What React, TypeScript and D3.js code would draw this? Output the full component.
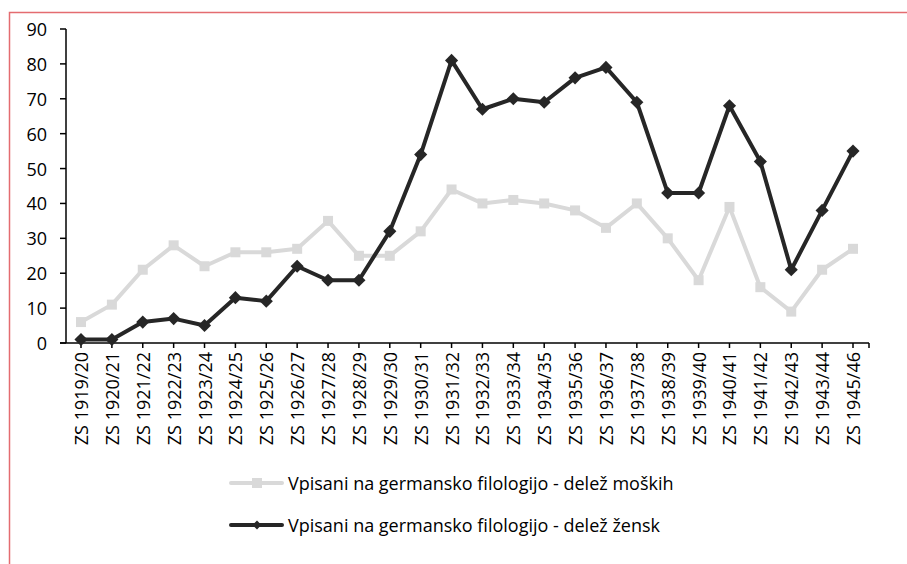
import React, { useRef, useEffect } from "react";
import * as d3 from "d3";

// semesters (1944/45 is missing in the source)
const semesters = [
  "ZS 1919/20", "ZS 1920/21", "ZS 1921/22", "ZS 1922/23", "ZS 1923/24",
  "ZS 1924/25", "ZS 1925/26", "ZS 1926/27", "ZS 1927/28", "ZS 1928/29",
  "ZS 1929/30", "ZS 1930/31", "ZS 1931/32", "ZS 1932/33", "ZS 1933/34",
  "ZS 1934/35", "ZS 1935/36", "ZS 1936/37", "ZS 1937/38", "ZS 1938/39",
  "ZS 1939/40", "ZS 1940/41", "ZS 1941/42", "ZS 1942/43", "ZS 1943/44",
  "ZS 1945/46",
];
const moski = [6, 11, 21, 28, 22, 26, 26, 27, 35, 25, 25, 32, 44, 40, 41, 40, 38, 33, 40, 30, 18, 39, 16, 9, 21, 27];
const zenske = [1, 1, 6, 7, 5, 13, 12, 22, 18, 18, 32, 54, 81, 67, 70, 69, 76, 79, 69, 43, 43, 68, 52, 21, 38, 55];
const yTicks = [0, 10, 20, 30, 40, 50, 60, 70, 80, 90];
const labelMoski = "Vpisani na germansko filologijo - delež moških";
const labelZenske = "Vpisani na germansko filologijo - delež žensk";

const W = 907;
const H = 564;
const font = "'Open Sans', 'Noto Sans', sans-serif";

export default function App() {
  const ref = useRef<SVGSVGElement>(null);

  useEffect(() => {
    const svg = d3.select(ref.current);
    svg.selectAll("*").remove();

    const axisLeft = 66;
    const axisRight = 869;
    const x = d3.scalePoint<string>().domain(semesters).range([81, 853]);
    const y = d3.scaleLinear().domain([0, 90]).range([343, 29]);

    // red frame
    svg.append("path")
      .attr("d", `M9.5,${H}V12.5H${W}`)
      .attr("fill", "none")
      .attr("stroke", "#e46c70")
      .attr("stroke-width", 1.5);

    // y axis
    const gy = svg.append("g");
    gy.append("line")
      .attr("x1", axisLeft).attr("x2", axisLeft)
      .attr("y1", y(90)).attr("y2", y(0))
      .attr("stroke", "#000").attr("stroke-width", 1.5);
    gy.selectAll("line.t").data(yTicks).join("line")
      .attr("class", "t")
      .attr("x1", 60).attr("x2", axisLeft)
      .attr("y1", d => y(d)).attr("y2", d => y(d))
      .attr("stroke", "#000").attr("stroke-width", 1.5);
    gy.selectAll("text").data(yTicks).join("text")
      .attr("x", 47).attr("y", d => y(d))
      .attr("text-anchor", "end")
      .attr("dominant-baseline", "central")
      .attr("font-family", font).attr("font-size", 18)
      .attr("fill", "#000")
      .text(d => d);

    // x axis
    const gx = svg.append("g");
    gx.append("line")
      .attr("x1", 60).attr("x2", axisRight)
      .attr("y1", y(0)).attr("y2", y(0))
      .attr("stroke", "#000").attr("stroke-width", 1.5);
    gx.selectAll("line.t").data([...semesters.map(s => x(s)!), axisRight]).join("line")
      .attr("class", "t")
      .attr("x1", d => d).attr("x2", d => d)
      .attr("y1", y(0)).attr("y2", y(0) + 5)
      .attr("stroke", "#000").attr("stroke-width", 1.5);
    gx.selectAll("text").data(semesters).join("text")
      .attr("transform", d => `translate(${x(d)},352) rotate(-90)`)
      .attr("text-anchor", "end")
      .attr("dominant-baseline", "central")
      .attr("font-family", font).attr("font-size", 18)
      .attr("fill", "#000")
      .text(d => d);

    const line = d3.line<number>()
      .x((_, i) => x(semesters[i])!)
      .y(d => y(d));

    // men
    svg.append("path")
      .datum(moski)
      .attr("d", line)
      .attr("fill", "none")
      .attr("stroke", "#d9d9d9")
      .attr("stroke-width", 4)
      .attr("stroke-linejoin", "round");
    svg.append("g").selectAll("rect").data(moski).join("rect")
      .attr("x", (_, i) => x(semesters[i])! - 5)
      .attr("y", d => y(d) - 5)
      .attr("width", 10).attr("height", 10)
      .attr("fill", "#d9d9d9");

    // women
    svg.append("path")
      .datum(zenske)
      .attr("d", line)
      .attr("fill", "none")
      .attr("stroke", "#262626")
      .attr("stroke-width", 4)
      .attr("stroke-linejoin", "round");
    const diamond = d3.symbol(d3.symbolDiamond2, 110);
    svg.append("g").selectAll("path").data(zenske).join("path")
      .attr("transform", (d, i) => `translate(${x(semesters[i])},${y(d)})`)
      .attr("d", diamond)
      .attr("fill", "#262626");

    // legend
    const legend = [
      { label: labelMoski, color: "#d9d9d9", cy: 483, marker: "square" },
      { label: labelZenske, color: "#262626", cy: 525, marker: "diamond" },
    ];
    const lg = svg.append("g").selectAll("g").data(legend).join("g");
    lg.append("line")
      .attr("x1", 231).attr("x2", 282)
      .attr("y1", d => d.cy).attr("y2", d => d.cy)
      .attr("stroke", d => d.color)
      .attr("stroke-width", 4)
      .attr("stroke-linecap", "round");
    lg.filter(d => d.marker === "square").append("rect")
      .attr("x", 252).attr("y", d => d.cy - 5)
      .attr("width", 10).attr("height", 10)
      .attr("fill", d => d.color);
    lg.filter(d => d.marker === "diamond").append("path")
      .attr("transform", d => `translate(257,${d.cy})`)
      .attr("d", d3.symbol(d3.symbolDiamond2, 50))
      .attr("fill", d => d.color);
    lg.append("text")
      .attr("x", 288).attr("y", d => d.cy)
      .attr("dominant-baseline", "central")
      .attr("font-family", font).attr("font-size", 18)
      .attr("fill", "#000")
      .text(d => d.label);
  }, []);

  return (
    <svg
      ref={ref}
      width={W}
      height={H}
      style={{ position: "absolute", left: 0, top: 0, background: "#fff" }}
    />
  );
}
